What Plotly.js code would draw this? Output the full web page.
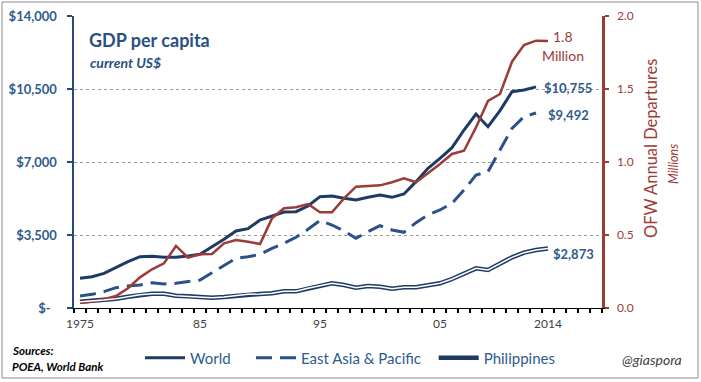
<!DOCTYPE html>
<html>
<head>
<meta charset="utf-8">
<script src="https://cdn.plot.ly/plotly-3.0.1.min.js"></script>
<style>
html, body { margin: 0; padding: 0; background: #fff; }
#chart { width: 701px; height: 382px; }
</style>
</head>
<body>
<div id="chart"></div>
<script>
// ---- data ----
const years = [1975,1976,1977,1978,1979,1980,1981,1982,1983,1984,1985,1986,1987,1988,1989,1990,1991,1992,1993,1994,1995,1996,1997,1998,1999,2000,2001,2002,2003,2004,2005,2006,2007,2008,2009,2010,2011,2012,2013,2014];
// GDP per capita, current US$ (World & East Asia: 1975-2013)
const world = [1424,1502,1662,1950,2220,2460,2478,2430,2430,2493,2573,2940,3292,3692,3804,4219,4411,4603,4619,4890,5337,5370,5258,5178,5306,5418,5306,5466,6057,6696,7176,7687,8534,9301,8694,9461,10372,10452,10600];
const eastAsia = [575,655,783,975,1055,1103,1215,1151,1183,1247,1342,1694,2046,2381,2461,2573,2860,3100,3390,3773,4200,3979,3692,3340,3660,3947,3740,3628,4091,4459,4699,5020,5658,6377,6537,7575,8614,9173,9350];
// Philippines: 1975-2014
const philippines = [303,336,384,447,543,640,687,687,591,559,527,495,527,591,655,671,703,799,799,943,1079,1183,1103,975,1055,1023,927,991,991,1071,1183,1390,1662,1902,1822,2141,2430,2653,2781,2850];
// OFW annual departures, millions: 1975-2014
const ofw = [0.036,0.045,0.060,0.082,0.135,0.21,0.265,0.306,0.425,0.345,0.368,0.37,0.443,0.466,0.454,0.438,0.614,0.683,0.69,0.712,0.655,0.655,0.751,0.831,0.836,0.84,0.861,0.888,0.861,0.922,0.986,1.055,1.077,1.237,1.418,1.466,1.687,1.801,1.831,1.829];

const xTickVals = [1975,1985,1995,2005,2014];
const xTickText = ['1975','85','95','05','2014'];
const yTickVals = [0,3500,7000,10500,14000];
const yTickText = ['$-\u00a0\u00a0','$3,500','$7,000','$10,500','$14,000'];
const y2TickVals = [0,0.5,1,1.5,2];
const y2TickText = ['0.0','0.5','1.0','1.5','2.0'];

const seriesNames = ['World','East Asia & Pacific','Philippines'];

// ---- styles ----
const FONT = "Lato, 'Open Sans', sans-serif";
const NAVY = '#1f3a64';
const BLUE = '#2b5288';
const TXTBLUE = '#2e5a8e';
const RED = '#9c3b38';
const XRANGE = [1974.5, 2018.5];

const traces = [
  {x: years.slice(0, world.length), y: world, type: 'scatter', mode: 'lines',
   name: seriesNames[0] + '\u00a0\u00a0\u00a0\u00a0', line: {color: NAVY, width: 3}},
  {x: years.slice(0, eastAsia.length), y: eastAsia, type: 'scatter', mode: 'lines',
   name: seriesNames[1] + '\u00a0\u00a0', line: {color: BLUE, width: 3, dash: '16px,8px'}},
  {x: years, y: philippines, type: 'scatter', mode: 'lines',
   name: seriesNames[2], line: {color: NAVY, width: 4.5}},
  {x: years, y: philippines, type: 'scatter', mode: 'lines', xaxis: 'x2',
   showlegend: false, hoverinfo: 'skip', line: {color: '#ffffff', width: 1.5}},
  {x: years, y: ofw, type: 'scatter', mode: 'lines', yaxis: 'y2',
   showlegend: false, name: 'OFW', line: {color: RED, width: 2.5}}
];

const layout = {
  width: 701, height: 382,
  margin: {l: 74, r: 99, t: 16, b: 74, pad: 0, autoexpand: false},
  paper_bgcolor: '#ffffff', plot_bgcolor: '#ffffff',
  font: {family: FONT},
  showlegend: true,
  // year tick marks on the category boundaries
  xaxis: {
    range: XRANGE, tickmode: 'linear', tick0: 1974.5, dtick: 1,
    ticks: 'outside', ticklen: 4, tickwidth: 1.2, tickcolor: '#000000', showticklabels: false,
    showline: true, linecolor: '#000000', linewidth: 1,
    showgrid: false, zeroline: false, fixedrange: true, automargin: false
  },
  // year labels centred in their categories
  xaxis2: {
    overlaying: 'x', anchor: 'y', side: 'bottom', range: XRANGE,
    tickmode: 'array', tickvals: xTickVals, ticktext: xTickText, ticks: '',
    showline: false, showgrid: false, zeroline: false, fixedrange: true, automargin: false,
    tickfont: {family: FONT, size: 12, color: '#404040'}, ticklabelstandoff: 7
  },
  yaxis: {
    range: [0, 14000], tickmode: 'array', tickvals: yTickVals, ticktext: yTickText,
    ticks: 'outside', ticklen: 5, tickwidth: 2, tickcolor: '#24497a',
    showline: true, linecolor: '#24497a', linewidth: 2.5,
    showgrid: true, gridcolor: '#9a9a9a', gridwidth: 1, griddash: 'dot',
    zeroline: false, fixedrange: true, automargin: false,
    tickfont: {family: FONT, size: 13, color: TXTBLUE, weight: 'bold'}, ticklabelstandoff: 7
  },
  yaxis2: {
    overlaying: 'y', side: 'right', range: [0, 2],
    tickmode: 'array', tickvals: y2TickVals, ticktext: y2TickText,
    ticks: 'outside', ticklen: 4, tickwidth: 2, tickcolor: RED,
    showline: true, linecolor: RED, linewidth: 2.5,
    showgrid: false, zeroline: false, fixedrange: true, automargin: false,
    tickfont: {family: FONT, size: 12, color: RED}, ticklabelstandoff: 6
  },
  legend: {
    orientation: 'h', x: 0.125, xanchor: 'left', y: -0.115, yanchor: 'top',
    font: {family: FONT, size: 15, color: TXTBLUE}, bgcolor: 'rgba(0,0,0,0)',
    itemwidth: 40, traceorder: 'normal'
  },
  shapes: [
    {type: 'rect', xref: 'paper', yref: 'paper', x0: -0.1364, x1: 1.1818, y0: -0.2397, y1: 1.0479,
     line: {color: '#8c8c8c', width: 1}, fillcolor: 'rgba(0,0,0,0)', layer: 'below'}
  ],
  annotations: [
    {xref: 'paper', yref: 'paper', x: 0.0246, y: 0.918, xanchor: 'left', yanchor: 'middle', showarrow: false,
     text: 'GDP per capita', font: {family: FONT, size: 18, color: '#2a5083', weight: 'bold'}},
    {xref: 'paper', yref: 'paper', x: 0.0265, y: 0.842, xanchor: 'left', yanchor: 'middle', showarrow: false,
     text: 'current US$', font: {family: FONT, size: 14, color: '#2a5083', weight: 'bold', style: 'italic'}},
    {xref: 'paper', yref: 'paper', x: 1.0928, y: 0.548, xanchor: 'center', yanchor: 'middle', showarrow: false,
     textangle: -90, text: 'OFW Annual Departures', font: {family: FONT, size: 16.5, color: RED}},
    {xref: 'paper', yref: 'paper', x: 1.1354, y: 0.495, xanchor: 'center', yanchor: 'middle', showarrow: false,
     textangle: -90, text: 'Millions', font: {family: FONT, size: 12.5, color: RED, style: 'italic'}},
    {xref: 'paper', yref: 'paper', x: 0.926, y: 0.93, xanchor: 'center', yanchor: 'middle', showarrow: false,
     text: '1.8', font: {family: FONT, size: 14, color: RED}},
    {xref: 'paper', yref: 'paper', x: 0.926, y: 0.866, xanchor: 'center', yanchor: 'middle', showarrow: false,
     text: 'Million', font: {family: FONT, size: 14, color: RED}},
    {xref: 'paper', yref: 'paper', x: 0.8864, y: 0.753, xanchor: 'left', yanchor: 'middle', showarrow: false,
     text: '$10,755', font: {family: FONT, size: 13, color: TXTBLUE, weight: 'bold'}},
    {xref: 'paper', yref: 'paper', x: 0.8939, y: 0.661, xanchor: 'left', yanchor: 'middle', showarrow: false,
     text: '$9,492', font: {family: FONT, size: 13, color: TXTBLUE, weight: 'bold'}},
    {xref: 'paper', yref: 'paper', x: 0.9034, y: 0.185, xanchor: 'left', yanchor: 'middle', showarrow: false,
     text: '$2,873', font: {family: FONT, size: 13, color: TXTBLUE, weight: 'bold'}},
    {xref: 'paper', yref: 'paper', x: -0.1212, y: -0.147, xanchor: 'left', yanchor: 'middle', showarrow: false,
     text: 'Sources:', font: {family: FONT, size: 11.5, color: '#000000', weight: 'bold', style: 'italic'}},
    {xref: 'paper', yref: 'paper', x: -0.1212, y: -0.202, xanchor: 'left', yanchor: 'middle', showarrow: false,
     text: 'POEA, World Bank', font: {family: FONT, size: 11.5, color: '#000000', weight: 'bold', style: 'italic'}},
    {xref: 'paper', yref: 'paper', x: 1.034, y: -0.178, xanchor: 'left', yanchor: 'middle', showarrow: false,
     text: '@giaspora', font: {family: FONT, size: 14, color: '#404040', style: 'italic'}}
  ]
};

Plotly.newPlot('chart', traces, layout, {displayModeBar: false, staticPlot: true});
</script>
</body>
</html>
